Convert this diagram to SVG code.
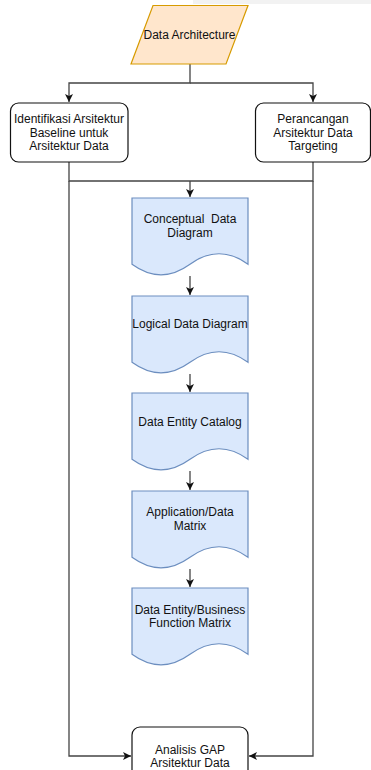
<svg xmlns="http://www.w3.org/2000/svg" width="371" height="770" viewBox="0 0 371 770">
<style>
text{font-family:"Liberation Sans",Arial,Helvetica,sans-serif;font-size:12px;fill:#111;text-anchor:middle;white-space:pre}
.box{fill:#fff;stroke:#111;stroke-width:1.2}
.doc{fill:#dae8fc;stroke:#6c8ebf;stroke-width:1.2}
.para{fill:#ffe6cc;stroke:#d79b00;stroke-width:1.2}
.edge{fill:none;stroke:#444;stroke-width:1.3}
</style>
<defs>
<marker id="arr" markerUnits="userSpaceOnUse" markerWidth="10" markerHeight="10" refX="8" refY="4" orient="auto">
<path d="M0,0 L8,4 L0,8 L2,4 Z" fill="#111"/>
</marker>
<path id="docshape" d="M0,0 H116 V66.3 Q87,45.2 58,66.3 Q29,87.4 0,66.3 Z"/>
</defs>
<rect x="193" y="0" width="178" height="4" fill="#f2f2f2"/>
<g id="connectors">
<path class="edge" d="M190,64 V83 H69 V102" marker-end="url(#arr)"/>
<path class="edge" d="M190,83 H313 V102" marker-end="url(#arr)"/>
<path class="edge" d="M69,162 V181 H313 V162"/>
<path class="edge" d="M190,181 V197" marker-end="url(#arr)"/>
<path class="edge" d="M190,276 V295" marker-end="url(#arr)"/>
<path class="edge" d="M190,374 V392" marker-end="url(#arr)"/>
<path class="edge" d="M190,471 V490" marker-end="url(#arr)"/>
<path class="edge" d="M190,569 V587" marker-end="url(#arr)"/>
<path class="edge" d="M69,181 V756 H131" marker-end="url(#arr)"/>
<path class="edge" d="M313,181 V756 H249" marker-end="url(#arr)"/>
</g>
<g id="data-architecture">
<path class="para" d="M153,5.5 H248 L226,64 H131 Z"/>
<text x="189.5" y="39">Data Architecture</text>
</g>
<g id="baseline">
<rect class="box" x="10.5" y="103" width="117.5" height="59" rx="8"/>
<text x="69" y="123">Identifikasi Arsitektur</text>
<text x="69" y="137">Baseline untuk</text>
<text x="69" y="150">Arsitektur Data</text>
</g>
<g id="target">
<rect class="box" x="255.5" y="103" width="115" height="59" rx="8"/>
<text x="313" y="123">Perancangan</text>
<text x="313" y="137">Arsitektur Data</text>
<text x="313" y="150">Targeting</text>
</g>
<g id="conceptual">
<use href="#docshape" class="doc" x="132" y="198"/>
<text x="190" y="223" xml:space="preserve">Conceptual  Data</text>
<text x="190" y="237">Diagram</text>
</g>
<g id="logical">
<use href="#docshape" class="doc" x="132" y="296"/>
<text x="190" y="328">Logical Data Diagram</text>
</g>
<g id="catalog">
<use href="#docshape" class="doc" x="132" y="393"/>
<text x="190" y="426">Data Entity Catalog</text>
</g>
<g id="appdata">
<use href="#docshape" class="doc" x="132" y="491"/>
<text x="190" y="516">Application/Data</text>
<text x="190" y="530">Matrix</text>
</g>
<g id="business">
<use href="#docshape" class="doc" x="132" y="588"/>
<text x="190" y="614">Data Entity/Business</text>
<text x="190" y="627">Function Matrix</text>
</g>
<g id="gap">
<rect class="box" x="132" y="727" width="116" height="60" rx="8"/>
<text x="190" y="754">Analisis GAP</text>
<text x="190" y="767">Arsitektur Data</text>
</g>
</svg>
